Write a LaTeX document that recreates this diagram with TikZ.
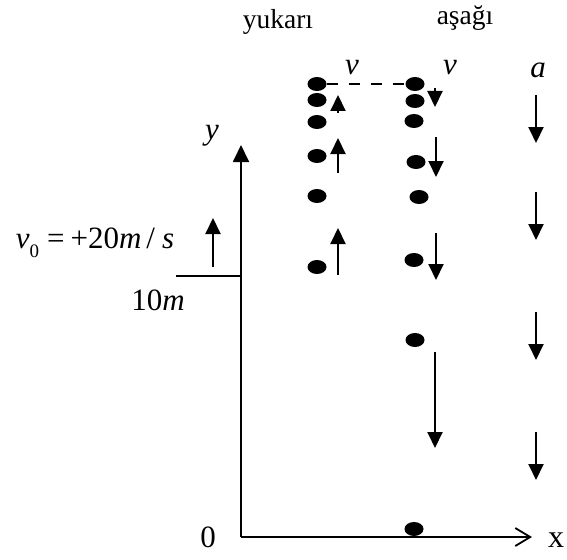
\documentclass[tikz,border=0pt]{standalone}
\usepackage{fontspec}
\setmainfont{Liberation Serif}
\usetikzlibrary{arrows.meta,shapes.geometric}
\begin{document}
\begin{tikzpicture}[x=1pt,y=-1pt,
  dot/.style={ellipse,fill=black,minimum width=19pt,minimum height=14pt,inner sep=0pt},
  vec/.style={line width=2pt,-{Triangle[length=16pt,width=15pt]}},
  axis/.style={line width=1.8pt},
  big/.style={font=\fontsize{31}{34}\selectfont,inner sep=0pt},
  ital/.style={font=\fontsize{31}{34}\selectfont\itshape,inner sep=0pt},
  word/.style={font=\fontsize{27.5}{32}\selectfont,inner sep=0pt}]
\useasboundingbox (0,0) rectangle (567,559);
% axes
\coordinate (O) at (241,537);
\coordinate (Ytop) at (241,145);
\coordinate (Xend) at (532,537);
\coordinate (H1) at (176,276);
\coordinate (H2) at (241,276);
\draw[axis,-{Triangle[length=17pt,width=16pt]}] (O) -- (Ytop);
\draw[axis,-{Straight Barb[length=15pt,width=18pt,line width=1.8pt]}] (O) -- (Xend);
\draw[axis] (H1) -- (H2);
% labels
\node[ital] (ylab) at (212,136) {y};
\node[big,font=\fontsize{32}{34}\selectfont] (xlab) at (556,540) {x};
\node[big] (zero) at (208,537) {0};
\node[big] (tenm) at (158,300) {10\textit{m}};
\node[big] (v0) at (95,243) {\textit{v}\raisebox{-0.28em}{\fontsize{19}{19}\selectfont 0}\hspace{8pt}=\hspace{6pt}+20\textit{m}\hspace{5pt}/\hspace{7pt}\textit{s}};
\node[word] (up) at (278,22) {yukarı};
\node[word] (down) at (465,18) {aşağı};
\node[ital] (vl) at (352,68) {v};
\node[ital] (vr) at (450,68) {v};
\node[ital] (al) at (538,70) {a};
% v0 arrow
\draw[vec] (213,267) -- (213,218);
% left column dots
\node[dot] (L1) at (317,84) {};
\node[dot] (L2) at (317,100) {};
\node[dot] (L3) at (317,122) {};
\node[dot] (L4) at (317,156) {};
\node[dot] (L5) at (317,196) {};
\node[dot] (L6) at (317,267) {};
% right column dots
\node[dot] (R1) at (415,84) {};
\node[dot] (R2) at (415,101) {};
\node[dot] (R3) at (414,121) {};
\node[dot] (R4) at (416,162) {};
\node[dot] (R5) at (419,197) {};
\node[dot] (R6) at (414,260) {};
\node[dot] (R7) at (415,340) {};
\node[dot] (R8) at (414,529) {};
\draw[line width=1.6pt,dash pattern=on 11pt off 11pt] (L1) -- (R1);
% left velocity arrows
\draw[vec] (338,113) -- (338,95);
\draw[vec] (338,173) -- (338,138);
\draw[vec] (338,275) -- (338,228);
% right velocity arrows
\draw[vec] (435,88) -- (435,107);
\draw[vec] (436,137) -- (436,177);
\draw[vec] (436,233) -- (436,280);
\draw[vec] (435,352) -- (435,448);
% acceleration arrows
\draw[vec] (536,95) -- (536,143);
\draw[vec] (536,192) -- (536,240);
\draw[vec] (536,312) -- (536,360);
\draw[vec] (536,432) -- (536,480);
\end{tikzpicture}
\end{document}
